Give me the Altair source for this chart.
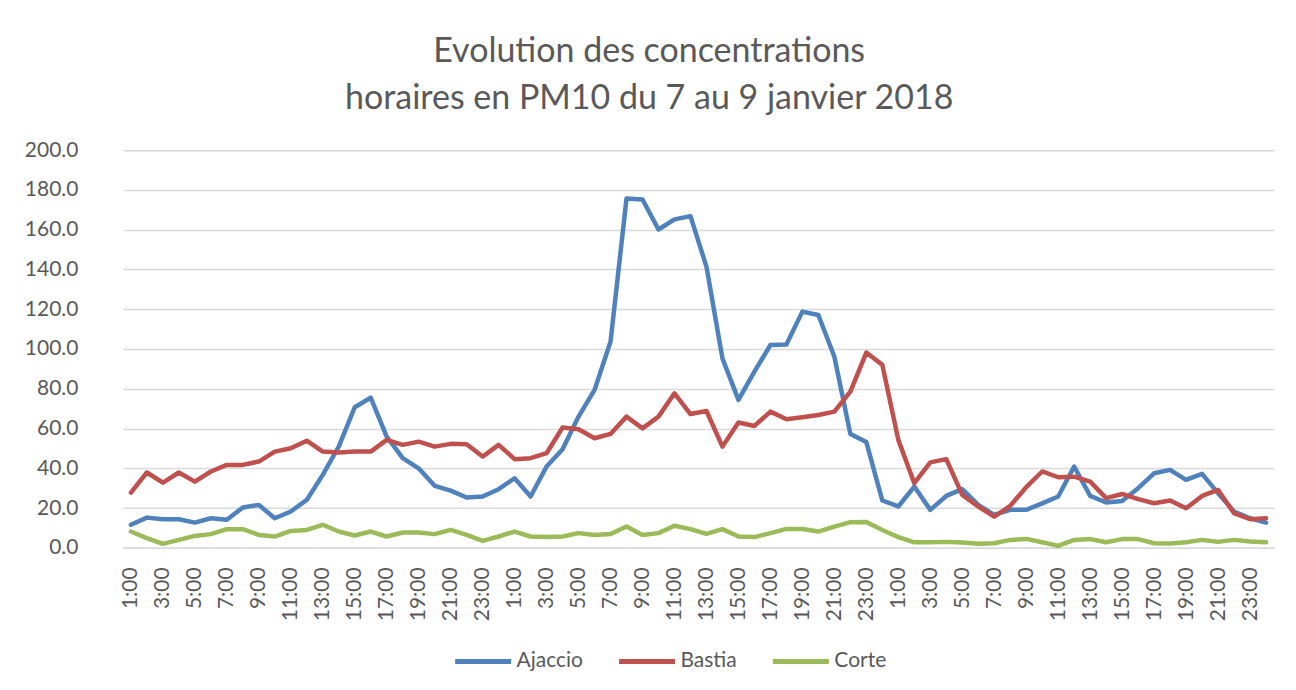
import altair as alt
import pandas as pd

hours = ["1:00", "2:00", "3:00", "4:00", "5:00", "6:00", "7:00", "8:00",
         "9:00", "10:00", "11:00", "12:00", "13:00", "14:00", "15:00", "16:00",
         "17:00", "18:00", "19:00", "20:00", "21:00", "22:00", "23:00", "0:00"]

stations = ["Ajaccio", "Bastia", "Corte"]
colors = ["#4F81BD", "#C0504D", "#9BBB59"]

ajaccio = [11.6, 15.2, 14.4, 14.4, 12.7, 14.9, 14.1, 20.3, 21.6, 14.9, 18.3, 24.1,
           36.7, 50.9, 70.7, 75.5, 55.9, 45.1, 40.0, 31.2, 28.8, 25.3, 25.8, 29.5,
           35.0, 25.8, 40.9, 49.6, 66.0, 79.4, 103.7, 175.7, 175.2, 160.1, 165.2, 166.8,
           141.4, 95.3, 74.4, 88.6, 102.0, 102.3, 118.8, 117.1, 96.1, 57.3, 53.2, 23.8,
           20.8, 30.8, 19.1, 26.1, 29.5, 21.6, 16.6, 19.1, 19.1, 22.4, 25.8, 40.9,
           26.1, 22.8, 23.6, 30.0, 37.5, 39.2, 34.2, 37.2, 27.5, 18.3, 14.9, 12.7]

bastia = [27.8, 37.9, 32.8, 37.9, 33.3, 38.4, 41.7, 41.7, 43.4, 48.4, 50.1, 53.9,
          48.4, 47.9, 48.4, 48.4, 54.3, 51.8, 53.4, 50.9, 52.3, 52.1, 45.9, 51.8,
          44.6, 45.1, 47.6, 60.5, 59.6, 55.1, 57.3, 66.0, 60.1, 66.0, 77.7, 67.3,
          68.8, 50.9, 63.0, 61.3, 68.5, 64.7, 65.7, 66.8, 68.5, 78.6, 98.2, 92.0,
          54.3, 32.5, 43.0, 44.6, 26.6, 20.8, 15.7, 21.1, 30.5, 38.4, 35.5, 35.8,
          33.3, 25.0, 27.1, 24.5, 22.4, 23.8, 19.9, 26.1, 29.1, 17.4, 14.4, 14.9]

corte = [8.2, 4.9, 2.0, 4.0, 6.0, 6.9, 9.4, 9.4, 6.5, 5.7, 8.5, 9.0,
         11.6, 8.2, 6.2, 8.2, 5.7, 7.7, 7.7, 6.9, 9.0, 6.5, 3.5, 5.7,
         8.2, 5.7, 5.4, 5.7, 7.4, 6.5, 7.0, 10.7, 6.5, 7.4, 11.1, 9.4,
         7.0, 9.4, 5.7, 5.4, 7.4, 9.5, 9.5, 8.2, 10.7, 12.9, 13.0, 9.0,
         5.4, 2.8, 2.8, 3.0, 2.7, 2.0, 2.3, 4.0, 4.5, 2.8, 1.0, 4.0,
         4.4, 2.8, 4.4, 4.4, 2.3, 2.2, 2.8, 4.0, 3.0, 4.0, 3.2, 2.8]

y_ticks = [0, 20, 40, 60, 80, 100, 120, 140, 160, 180, 200]

rows = []
for name, series in zip(stations, [ajaccio, bastia, corte]):
    for i, v in enumerate(series):
        rows.append({"idx": i, "heure": hours[i % 24], "station": name, "value": v})
df = pd.DataFrame(rows)

label_array = "[" + ",".join("'" + h + "'" for h in hours) + "]"
n = len(ajaccio)

FONT = "Lato"
TXT = "#595959"
GRID = "#D9D9D9"

chart = alt.Chart(df).mark_line(strokeWidth=4.5, strokeCap="round", strokeJoin="round").encode(
    x=alt.X("idx:Q",
            scale=alt.Scale(domain=[-0.5, n - 0.5], nice=False, zero=False),
            axis=alt.Axis(values=list(range(0, n, 2)),
                          labelExpr=label_array + "[datum.value % 24]",
                          labelAngle=-90, ticks=False, grid=False,
                          domain=True, domainColor=GRID, domainWidth=1.5,
                          labelFlush=False, labelOverlap=False, labelBound=False,
                          labelFont=FONT, labelFontSize=21, labelColor=TXT,
                          labelPadding=19),
            title=None),
    y=alt.Y("value:Q",
            scale=alt.Scale(domain=[0, 200], nice=False),
            axis=alt.Axis(values=y_ticks, format=".1f", domain=False, ticks=False,
                          gridColor=GRID, gridWidth=1.5,
                          labelFont=FONT, labelFontSize=21, labelColor=TXT,
                          labelPadding=45),
            title=None),
    color=alt.Color("station:N",
                    scale=alt.Scale(domain=stations, range=colors),
                    legend=alt.Legend(orient="none", legendX=330, legendY=481,
                                      direction="horizontal", title=None,
                                      symbolType="stroke", symbolSize=3136,
                                      symbolStrokeWidth=5,
                                      labelFont=FONT, labelFontSize=21, labelColor=TXT,
                                      labelOffset=3, columnPadding=25)),
    order="idx:Q",
).properties(
    width=1152,
    height=398,
    padding={"left": 16, "top": 27, "right": 14, "bottom": 5},
    title=alt.TitleParams(["Evolution des concentrations",
                           "horaires en PM10 du 7 au 9 janvier 2018"],
                          font=FONT, fontSize=34, fontWeight="normal", color=TXT,
                          lineHeight=47, anchor="middle", frame="bounds", offset=23),
).configure_view(stroke=None)

chart.save("out.html", embed_options={"renderer": "svg", "actions": False})
